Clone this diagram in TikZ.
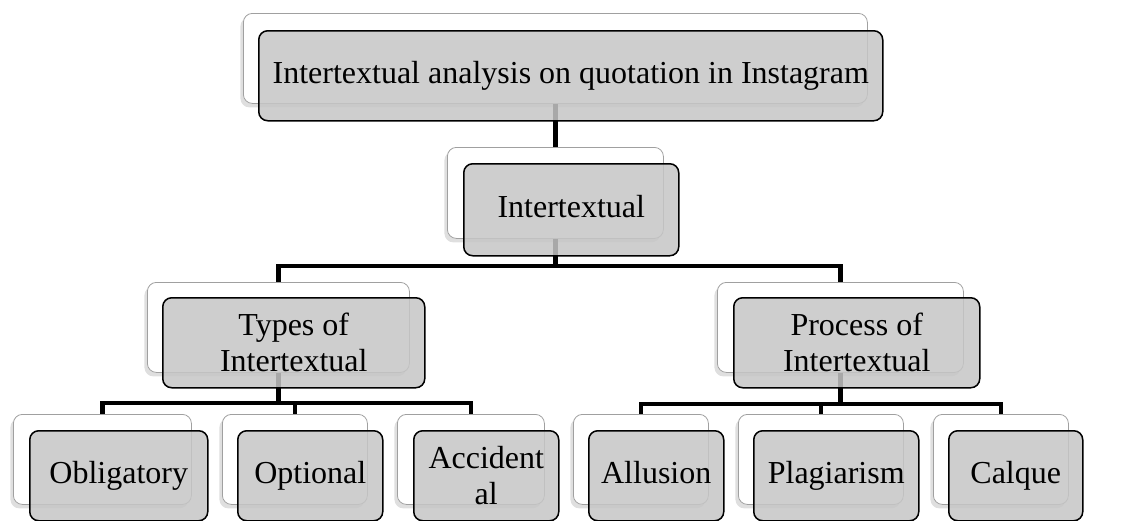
\documentclass[tikz,border=0pt]{standalone}
\usepackage{fontspec}
\setmainfont{Liberation Serif}
\usepackage{xcolor}
\usetikzlibrary{shadows}
\definecolor{boxgray}{HTML}{C6C6C6}
\definecolor{edgegray}{HTML}{A0A0A0}

\begin{document}
\begin{tikzpicture}[x=1pt, y=-1pt,
    every node/.style={font=\fontsize{32}{36}\selectfont, align=center,
      inner sep=0pt, anchor=north west, minimum height=90},
    backbox/.style={draw=edgegray, line width=0.8pt, fill=white, rounded corners=9pt,
      drop shadow={shadow xshift=-3pt, shadow yshift=-4pt, opacity=0.25}},
    frontbox/.style={draw=black, line width=1.5pt, fill=boxgray, fill opacity=0.85,
      text opacity=1, rounded corners=9pt},
    oneline/.style={text height=22pt, text depth=7pt},
    link/.style={line width=4.5pt}]
    \useasboundingbox (0,0) rectangle (1122,520);
    % back cards
    \node[backbox, minimum width=624] (titleB) at (243,13) {};
    \node[backbox, minimum width=216, minimum height=91] (intB) at (447,147) {};
    \node[backbox, minimum width=262] (typesB) at (147,282) {};
    \node[backbox, minimum width=246] (procB) at (717,282) {};
    \node[backbox, minimum width=178] (oblB) at (13,414) {};
    \node[backbox, minimum width=145] (optB) at (222,414) {};
    \node[backbox, minimum width=147] (accB) at (397,414) {};
    \node[backbox, minimum width=135] (allB) at (573,414) {};
    \node[backbox, minimum width=165] (plaB) at (738,414) {};
    \node[backbox, minimum width=135] (calB) at (933,414) {};
    % hierarchy lines
    \draw[link] (titleB.south) -- (intB.north);
    \draw[link] (intB.south) -- ++(0,27) -| (typesB.north);
    \draw[link] (intB.south) -- ++(0,27) -| (procB.north);
    \draw[link] (typesB.south) -- ++(0,30) -| (oblB.north);
    \draw[link] (typesB.south) -- ++(0,30) -| (optB.north);
    \draw[link] (typesB.south) -- ++(0,30) -| (accB.north);
    \draw[link] (procB.south) -- ++(0,31) -| (allB.north);
    \draw[link] (procB.south) -- ++(0,31) -| (plaB.north);
    \draw[link] (procB.south) -- ++(0,31) -| (calB.north);
    % front cards
    \node[frontbox, oneline, minimum width=624] (title) at ([shift={(15,17)}]titleB.north west)
      {Intertextual analysis on quotation in Instagram};
    \node[frontbox, oneline, minimum width=215, minimum height=92] (int) at ([shift={(16,16)}]intB.north west) {Intertextual};
    \node[frontbox, minimum width=262] (types) at ([shift={(15,15)}]typesB.north west) {Types of\\Intertextual};
    \node[frontbox, minimum width=246] (proc) at ([shift={(16,15)}]procB.north west) {Process of\\Intertextual};
    \node[frontbox, oneline, minimum width=178] (obl) at ([shift={(16,16)}]oblB.north west) {Obligatory};
    \node[frontbox, oneline, minimum width=145] (opt) at ([shift={(15,16)}]optB.north west) {Optional};
    \node[frontbox, minimum width=145] (acc) at ([shift={(16,16)}]accB.north west) {Accident\\al};
    \node[frontbox, oneline, minimum width=135] (all) at ([shift={(15,16)}]allB.north west) {Allusion};
    \node[frontbox, oneline, minimum width=165] (pla) at ([shift={(15,16)}]plaB.north west) {Plagiarism};
    \node[frontbox, oneline, minimum width=134] (cal) at ([shift={(15,16)}]calB.north west) {Calque};
  \end{tikzpicture}
\end{document}
